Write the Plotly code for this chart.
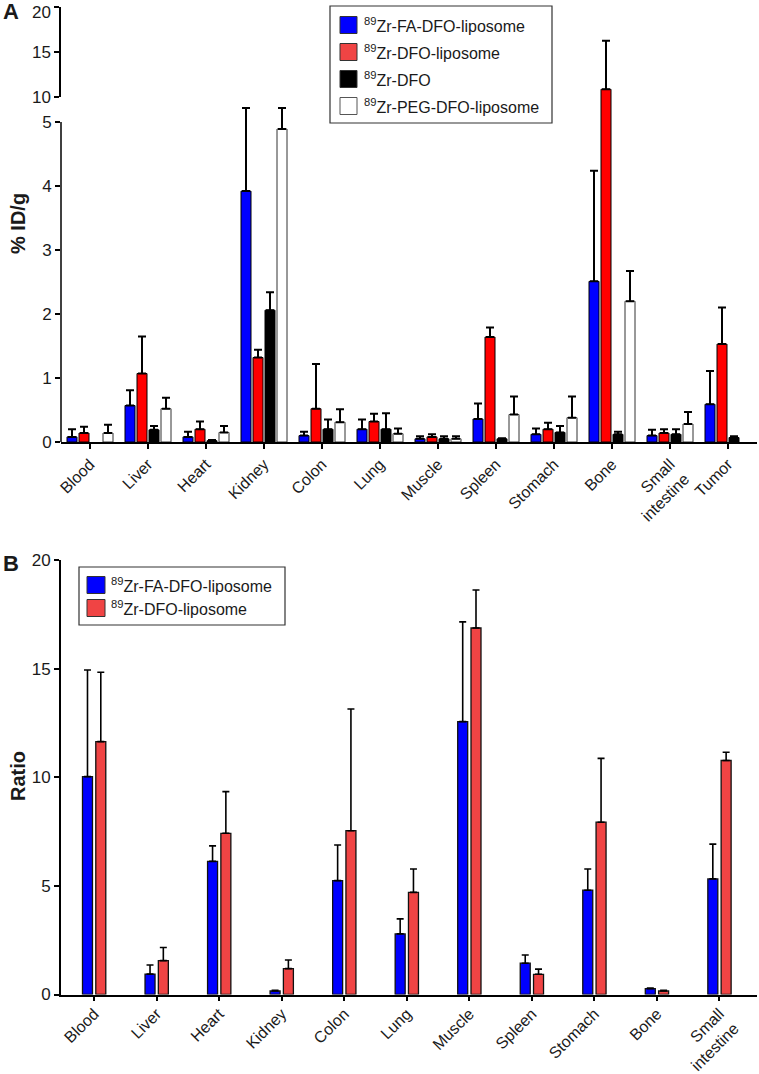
import plotly.graph_objects as go

# ---------------- data ----------------
organs_a = ["Blood", "Liver", "Heart", "Kidney", "Colon", "Lung", "Muscle",
            "Spleen", "Stomach", "Bone", "Small intestine", "Tumor"]
labels_a = ["Blood", "Liver", "Heart", "Kidney", "Colon", "Lung", "Muscle",
            "Spleen", "Stomach", "Bone", "Small<br>intestine", "Tumor"]

fa_lipo_a = [0.08, 0.57, 0.08, 3.92, 0.10, 0.20, 0.05, 0.36, 0.12, 2.51, 0.10, 0.59]
fa_lipo_a_sd = [0.12, 0.24, 0.08, 1.30, 0.06, 0.15, 0.04, 0.24, 0.09, 1.73, 0.09, 0.52]
dfo_lipo_a = [0.14, 1.07, 0.20, 1.32, 0.52, 0.32, 0.08, 1.64, 0.20, 10.86, 0.14, 1.53]
dfo_lipo_a_sd = [0.10, 0.58, 0.12, 0.12, 0.70, 0.12, 0.04, 0.15, 0.10, 5.40, 0.06, 0.57]
dfo_a = [None, 0.19, 0.02, 2.06, 0.20, 0.20, 0.05, 0.05, 0.15, 0.12, 0.12, 0.07]
dfo_a_sd = [0, 0.06, 0.01, 0.28, 0.15, 0.25, 0.04, 0.01, 0.10, 0.04, 0.08, 0.02]
peg_lipo_a = [0.14, 0.52, 0.15, 4.89, 0.31, 0.13, 0.05, 0.43, 0.38, 2.20, 0.28, None]
peg_lipo_a_sd = [0.13, 0.17, 0.10, 0.33, 0.20, 0.08, 0.04, 0.28, 0.33, 0.47, 0.19, 0]

organs_b = ["Blood", "Liver", "Heart", "Kidney", "Colon", "Lung", "Muscle",
            "Spleen", "Stomach", "Bone", "Small intestine"]
labels_b = ["Blood", "Liver", "Heart", "Kidney", "Colon", "Lung", "Muscle",
            "Spleen", "Stomach", "Bone", "Small<br>intestine"]
fa_lipo_b = [10.03, 0.94, 6.13, 0.16, 5.24, 2.79, 12.56, 1.44, 4.80, 0.27, 5.32]
fa_lipo_b_sd = [4.91, 0.42, 0.71, 0.03, 1.64, 0.69, 4.59, 0.38, 0.98, 0.03, 1.60]
dfo_lipo_b = [11.64, 1.56, 7.42, 1.19, 7.54, 4.70, 16.87, 0.93, 7.93, 0.16, 10.77]
dfo_lipo_b_sd = [3.19, 0.60, 1.92, 0.40, 5.60, 1.08, 1.75, 0.24, 2.94, 0.03, 0.38]

names_a = ["<sup>89</sup>Zr-FA-DFO-liposome", "<sup>89</sup>Zr-DFO-liposome",
           "<sup>89</sup>Zr-DFO", "<sup>89</sup>Zr-PEG-DFO-liposome"]
names_b = ["<sup>89</sup>Zr-FA-DFO-liposome", "<sup>89</sup>Zr-DFO-liposome"]

yticks_a_low = [0, 1, 2, 3, 4, 5]
yticks_a_high = [10, 15, 20]
yticks_b = [0, 5, 10, 15, 20]

# ---------------- style ----------------
W, H = 759, 1074
FONT = "Liberation Sans, Arial, sans-serif"
BLUE = "#0000FF"
RED_A = "#FF0000"
RED_B = "#F04444"
RED_SWATCH = "#F04444"
BLACK = "#000000"
WHITE = "#FFFFFF"
TXT = "#1a1a1a"


def px(x):
    return x / W


def py(y):
    return 1 - y / H


fig = go.Figure()

# ---- Panel A bars (drawn in both broken-axis segments) ----
series_a = [
    (fa_lipo_a, fa_lipo_a_sd, BLUE, "#000000"),
    (dfo_lipo_a, dfo_lipo_a_sd, RED_A, "#000000"),
    (dfo_a, dfo_a_sd, BLACK, "#000000"),
    (peg_lipo_a, peg_lipo_a_sd, WHITE, "#333333"),
]
cat_px_a = 58.0
bar_w_a = 10.0 / cat_px_a
centers_a = [-18, -6, 6, 18]
for (xa, ya) in [("x", "y"), ("x2", "y2")]:
    for i, (vals, sd, col, lc) in enumerate(series_a):
        fig.add_trace(go.Bar(
            x=organs_a, y=vals, xaxis=xa, yaxis=ya,
            width=bar_w_a, offset=centers_a[i] / cat_px_a - bar_w_a / 2,
            marker=dict(color=col, line=dict(color=lc, width=1)),
            error_y=dict(type="data", array=sd, arrayminus=[0] * len(sd),
                         symmetric=False, color="black", thickness=2, width=4),
            name=names_a[i], showlegend=False, hoverinfo="skip"))

# ---- Panel B bars ----
series_b = [
    (fa_lipo_b, fa_lipo_b_sd, BLUE),
    (dfo_lipo_b, dfo_lipo_b_sd, RED_B),
]
rng_b = [-0.53, 10.6]
cat_px_b = 696.0 / (rng_b[1] - rng_b[0])
bar_w_b = 10.0 / cat_px_b
centers_b = [-6.65, 6.65]
for i, (vals, sd, col) in enumerate(series_b):
    fig.add_trace(go.Bar(
        x=organs_b, y=vals, xaxis="x3", yaxis="y3",
        width=bar_w_b, offset=centers_b[i] / cat_px_b - bar_w_b / 2,
        marker=dict(color=col, line=dict(color="#111111", width=1.3)),
        error_y=dict(type="data", array=sd, arrayminus=[0] * len(sd),
                     symmetric=False, color="black", thickness=1.6, width=3.5),
        name=names_b[i], showlegend=False, hoverinfo="skip"))

yfont = dict(family=FONT, size=17, color=TXT)
xfont = dict(family=FONT, size=16, color=TXT)

# top tick label of the upper segment is written as an annotation (kept inside page)
ytext_a_high = [str(v) for v in yticks_a_high[:-1]] + [""]

fig.update_layout(
    width=W, height=H, margin=dict(l=0, r=0, t=0, b=0),
    paper_bgcolor="white", plot_bgcolor="rgba(0,0,0,0)",
    barmode="overlay", showlegend=False,
    font=dict(family=FONT, color=TXT),
    xaxis=dict(domain=[px(61), px(757)], anchor="y", type="category",
               categoryorder="array", categoryarray=organs_a,
               range=[-0.5, 11.5], tickvals=organs_a, ticktext=labels_a,
               tickangle=-45, ticks="outside", ticklen=5, tickwidth=1.5,
               tickcolor="black", showline=True, linecolor="black", linewidth=1.5,
               showgrid=False, zeroline=False, tickfont=xfont, automargin=False,
               ticklabeloverflow="allow"),
    yaxis=dict(domain=[py(442), py(97)], anchor="x",
               range=[0, (442 - 97) / 64.0], tickvals=yticks_a_low,
               ticks="outside", ticklen=5, tickwidth=1.5, tickcolor="black",
               showline=False, showgrid=False, zeroline=False,
               tickfont=yfont, automargin=False, ticklabeloverflow="allow"),
    xaxis2=dict(domain=[px(61), px(757)], anchor="y2", type="category",
                categoryorder="array", categoryarray=organs_a,
                range=[-0.5, 11.5], visible=False, showticklabels=False,
                ticks="", showline=False, showgrid=False, zeroline=False),
    yaxis2=dict(domain=[py(97), py(7)], anchor="x2", range=[10, 20],
                tickvals=yticks_a_high, ticktext=ytext_a_high,
                ticks="outside", ticklen=5, tickwidth=1.5,
                tickcolor="black", showline=True, linecolor="black", linewidth=1.5,
                showgrid=False, zeroline=False, tickfont=yfont, automargin=False,
                ticklabeloverflow="allow"),
    xaxis3=dict(domain=[px(61), px(757)], anchor="y3", type="category",
                categoryorder="array", categoryarray=organs_b,
                range=rng_b, tickvals=organs_b, ticktext=labels_b,
                tickangle=-45, ticks="outside", ticklen=5, tickwidth=1.5,
                tickcolor="black", showline=True, linecolor="black", linewidth=1.5,
                showgrid=False, zeroline=False, tickfont=xfont, automargin=False,
                ticklabeloverflow="allow", ticklabelstandoff=-3),
    yaxis3=dict(domain=[py(994.5), py(560)], anchor="x3", range=[0, 20],
                tickvals=yticks_b, ticks="outside", ticklen=5, tickwidth=1.5,
                tickcolor="black", showline=True, linecolor="black", linewidth=1.8,
                showgrid=False, zeroline=False, tickfont=yfont, automargin=False,
                ticklabeloverflow="allow"),
)

shapes = []
annotations = []

# bottom segment axis line of panel A (0 to 5 only -> visible break)
shapes.append(dict(type="line", xref="paper", yref="y", x0=px(61), x1=px(61),
                   y0=0, y1=5, line=dict(color="black", width=1.5)))


def label(text, x, y, size, angle=0, xanchor="center"):
    annotations.append(dict(text=text, x=px(x), y=py(y), xref="paper", yref="paper",
                            xanchor=xanchor, yanchor="middle", textangle=angle,
                            showarrow=False,
                            font=dict(family=FONT, size=size, color=TXT)))


label(str(yticks_a_high[-1]), 53, 12.5, 17, 0, "right")
label("<b>% ID/g</b>", 18, 224, 20, -90)
label("<b>Ratio</b>", 18, 776, 20, -90)
label("<b>A</b>", 11, 12, 22)
label("<b>B</b>", 11, 563, 22)


def legend(box, rows, entries, sw_x, sw_w, text_x):
    x0, y0, x1, y1 = box
    shapes.append(dict(type="rect", xref="paper", yref="paper",
                       x0=px(x0), x1=px(x1), y0=py(y1), y1=py(y0),
                       line=dict(color="#333333", width=1.2), fillcolor="white"))
    for yc, (name, col, lc) in zip(rows, entries):
        shapes.append(dict(type="rect", xref="paper", yref="paper",
                           x0=px(sw_x), x1=px(sw_x + sw_w),
                           y0=py(yc + 8.5), y1=py(yc - 8.5),
                           line=dict(color=lc, width=1), fillcolor=col))
        annotations.append(dict(text=name, x=px(text_x), y=py(yc), xref="paper",
                                yref="paper", xanchor="left", yanchor="middle",
                                showarrow=False,
                                font=dict(family=FONT, size=16, color=TXT)))


legend((330, 6, 552, 123), [25, 52, 79, 106],
       [(names_a[0], BLUE, "#333333"), (names_a[1], RED_SWATCH, "#333333"),
        (names_a[2], BLACK, "#333333"), (names_a[3], WHITE, "#555555")],
       340, 17, 362)
legend((79, 567, 285, 625), [585, 608],
       [(names_b[0], BLUE, "#333333"), (names_b[1], RED_SWATCH, "#333333")],
       87, 18, 109)

fig.update_layout(shapes=shapes, annotations=annotations)

fig.write_html("out.html",
               config={"displayModeBar": False},
               post_script="document.body.style.margin='0';"
                           "document.body.style.padding='0';")
